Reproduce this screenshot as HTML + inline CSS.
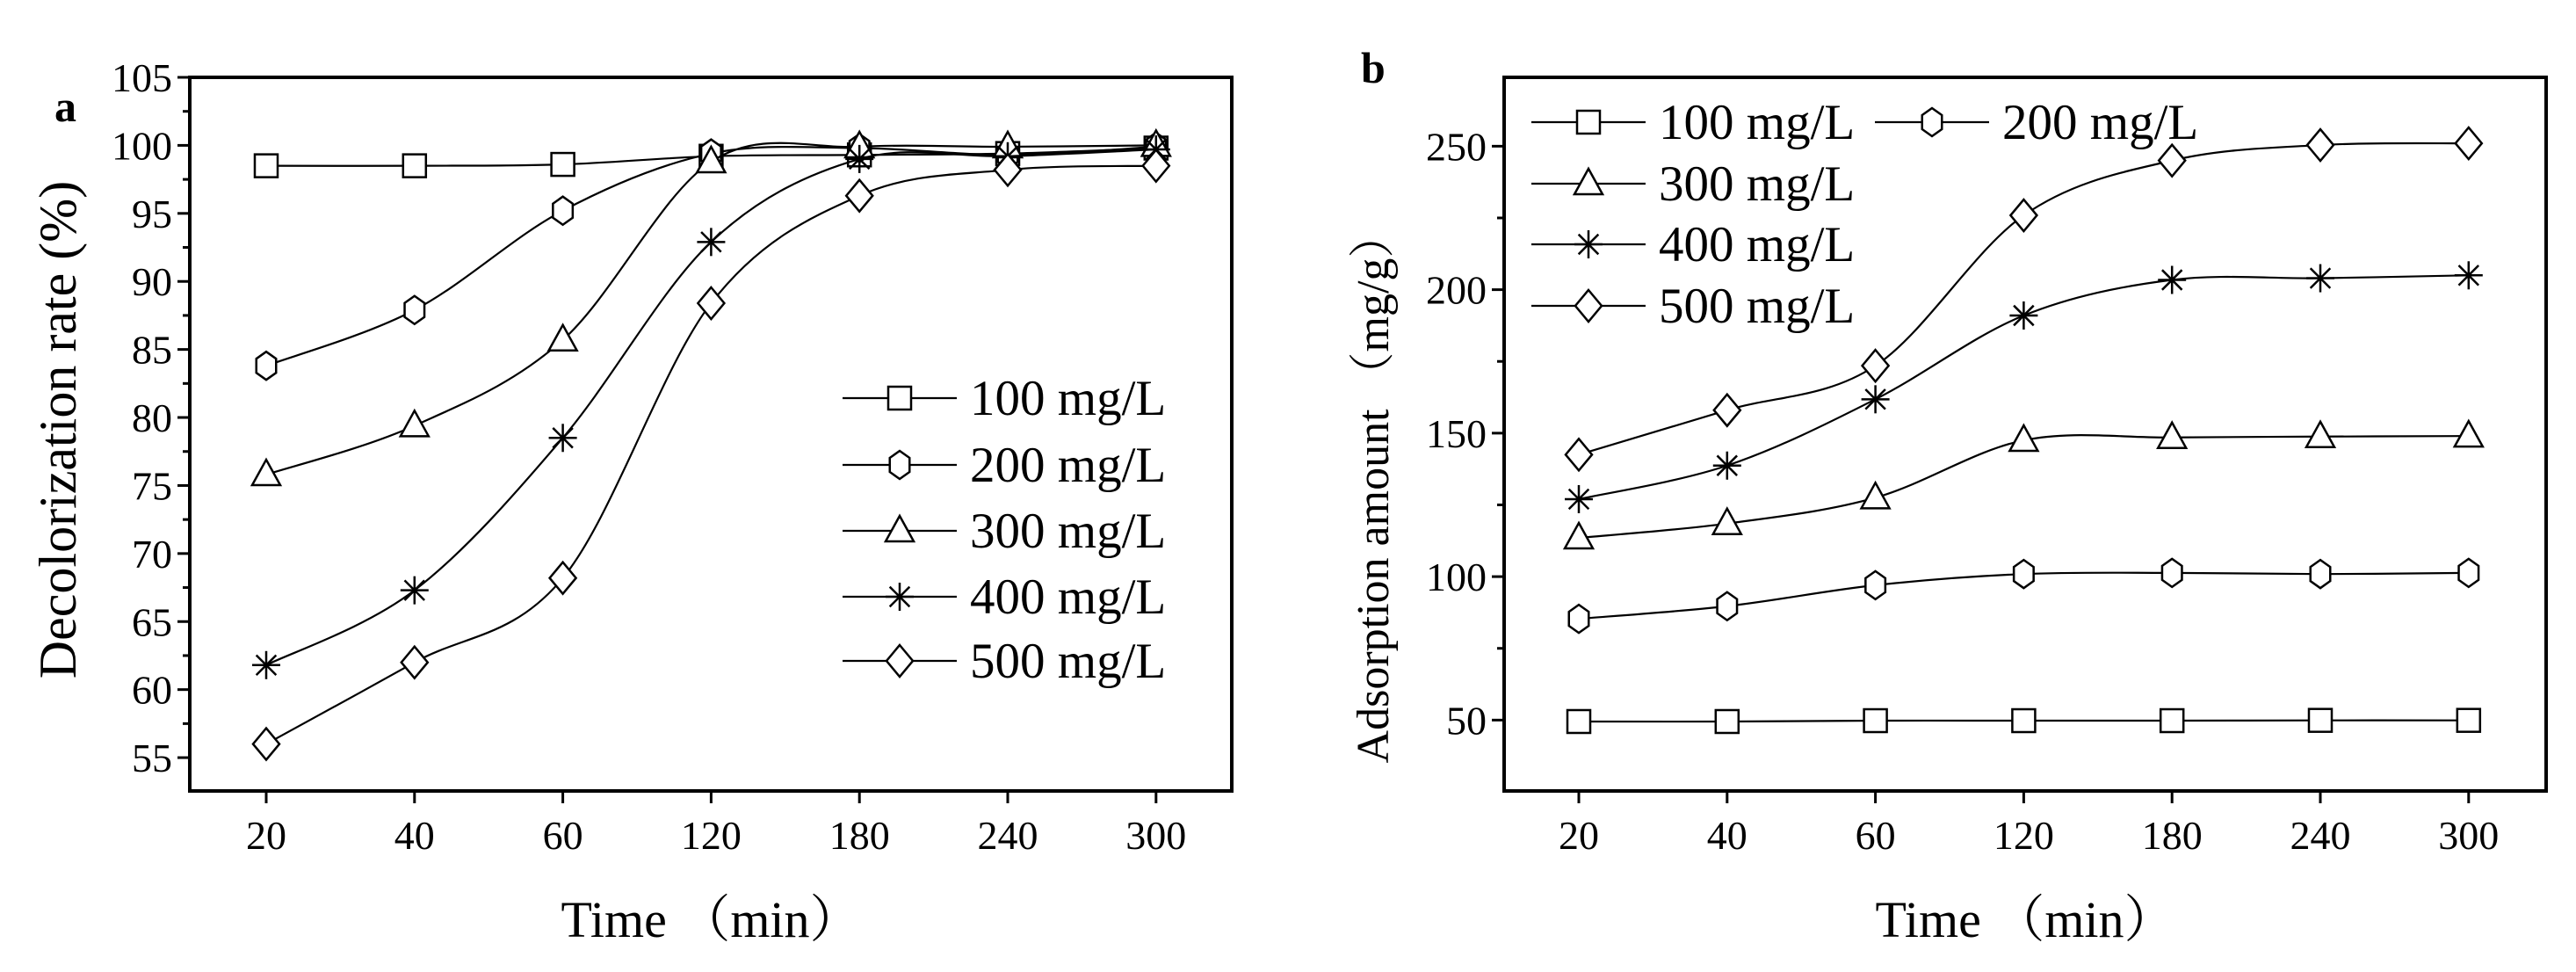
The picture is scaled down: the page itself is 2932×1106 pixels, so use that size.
<!DOCTYPE html>
<html><head><meta charset="utf-8"><style>
html,body{margin:0;padding:0;background:#fff}
svg{display:block}
text{font-family:"Liberation Serif","Noto Serif CJK SC",serif;fill:#000}
</style></head><body>
<svg id="fig" width="2932" height="1106" viewBox="0 0 2932 1106" xmlns="http://www.w3.org/2000/svg"></svg>
<script>
const categories = ["20","40","60","120","180","240","300"];
const seriesNames = ["100 mg/L","200 mg/L","300 mg/L","400 mg/L","500 mg/L"];
const markerTypes = ["square","hexagon","triangle","star","diamond"];
const aTicks = [55,60,65,70,75,80,85,90,95,100,105];
const bTicks = [50,100,150,200,250];
const a100 = [98.5,98.5,98.6,99.2,99.3,99.4,99.8];
const a200 = [83.8,87.9,95.2,99.4,99.8,99.3,99.9];
const a300 = [75.8,79.4,85.7,98.8,99.9,99.9,100.0];
const a400 = [61.8,67.3,78.5,92.9,99.0,99.2,99.7];
const a500 = [56.0,62.0,68.2,88.4,96.3,98.2,98.5];
const b100 = [49.5,49.5,49.8,49.8,49.8,49.9,49.9];
const b200 = [85.3,89.7,97.0,100.9,101.3,100.9,101.3];
const b300 = [113.5,118.5,127.5,147.5,148.5,148.8,149.0];
const b400 = [127.0,138.7,161.8,191.0,203.4,204.0,205.0];
const b500 = [142.5,158.0,173.5,225.9,245.0,250.4,251.0];

const NS="http://www.w3.org/2000/svg";
const svg=document.getElementById('fig');
function el(tag,attrs,parent){const e=document.createElementNS(NS,tag);for(const k in attrs)e.setAttribute(k,attrs[k]);(parent||svg).appendChild(e);return e;}

function spline(pts){
  let d=`M${pts[0][0]},${pts[0][1]}`;
  for(let i=0;i<pts.length-1;i++){
    const p0=pts[Math.max(0,i-1)],p1=pts[i],p2=pts[i+1],p3=pts[Math.min(pts.length-1,i+2)];
    const c1x=p1[0]+(p2[0]-p0[0])/6,c1y=p1[1]+(p2[1]-p0[1])/6;
    const c2x=p2[0]-(p3[0]-p1[0])/6,c2y=p2[1]-(p3[1]-p1[1])/6;
    d+=` C${c1x},${c1y} ${c2x},${c2y} ${p2[0]},${p2[1]}`;
  }
  return d;
}
function marker(g,type,x,y){
  const r=14;let e;
  const st={fill:'#fff',stroke:'#000','stroke-width':2.5};
  if(type==='square'){e=el('rect',Object.assign({x:x-r+1,y:y-r+1,width:2*r-2,height:2*r-2},st),g);}
  else if(type==='hexagon'){let p=[];for(let k=0;k<6;k++){const a=Math.PI/6+k*Math.PI/3;p.push((x+13*Math.cos(a))+','+(y+16*Math.sin(a)));}e=el('polygon',Object.assign({points:p.join(' ')},st),g);}
  else if(type==='triangle'){e=el('polygon',Object.assign({points:`${x},${y-17} ${x+16},${y+12} ${x-16},${y+12}`},st),g);}
  else if(type==='diamond'){e=el('polygon',Object.assign({points:`${x},${y-18} ${x+15},${y} ${x},${y+18} ${x-15},${y}`},st),g);}
  else {e=el('g',{},g);for(let k=0;k<4;k++){const a=k*Math.PI/4;el('line',{x1:x-16*Math.cos(a),y1:y-16*Math.sin(a),x2:x+16*Math.cos(a),y2:y+16*Math.sin(a),stroke:'#000','stroke-width':2.5},e);}}
  
  
  return e;
}

function panel(o){
  const g=el('g',{});
  
  
  const X=i=>o.x0+i*o.dx;
  const Y=v=>o.yTop+(o.ymax-v)*(o.yBot-o.yTop)/(o.ymax-o.ymin);
  const box=el('rect',{x:o.L,y:o.yTop,width:o.R-o.L,height:o.yBot-o.yTop,fill:'none',stroke:'#000','stroke-width':4},g);
  
  
  for(const t of o.yticks){
    const y=Y(t);
    el('line',{x1:o.L-14,y1:y,x2:o.L,y2:y,stroke:'#000','stroke-width':3},g);
    const m=Y(t+o.ystep/2); if(m>o.yTop) el('line',{x1:o.L-8,y1:m,x2:o.L,y2:m,stroke:'#000','stroke-width':3},g);
    const m2=Y(t-o.ystep/2); if(t===o.yticks[0]&&m2<o.yBot) el('line',{x1:o.L-8,y1:m2,x2:o.L,y2:m2,stroke:'#000','stroke-width':3},g);
    const tx=el('text',{x:o.L-20,y:y+16,'text-anchor':'end','font-size':46},g);tx.textContent=t;
    
    
  }
  categories.forEach((c,i)=>{
    const x=X(i);
    el('line',{x1:x,y1:o.yBot,x2:x,y2:o.yBot+14,stroke:'#000','stroke-width':3},g);
    const tx=el('text',{x:x,y:o.yBot+66,'text-anchor':'middle','font-size':46},g);tx.textContent=c;
    
    
  });
  const xt=el('text',{x:(o.L+o.R)/2,y:1066,'text-anchor':'middle','font-size':58},g);xt.textContent='Time （min）';
  
  
  const yt=el('text',{x:0,y:0,'text-anchor':'middle','font-size':o.ytSize,transform:`translate(${o.ytX},${o.ytY}) rotate(-90)`},g);yt.textContent=o.ytitle;
  
  
  const lb=el('text',{x:o.lblX,y:o.lblY,'font-size':50,'font-weight':'bold'},g);lb.textContent=o.label;
  
  
  o.series.forEach((s,k)=>{
    const pts=s.map((v,i)=>[X(i),Y(v)]);
    const p=el('path',{d:spline(pts),fill:'none',stroke:'#000','stroke-width':2.2},g);
    
    
    pts.forEach(q=>marker(g,markerTypes[k],q[0],q[1]));
  });
  o.legend.forEach((L,k)=>{
    const lg=el('g',{},g);
    
    
    el('line',{x1:L[0],y1:L[1],x2:L[0]+130,y2:L[1],stroke:'#000','stroke-width':2.2},lg);
    marker(lg,markerTypes[k],L[0]+65,L[1]);
    const t=el('text',{x:L[0]+145,y:L[1]+19,'font-size':57},lg);t.textContent=seriesNames[k];
  });
}
panel({name:'panel-a',L:216,R:1402,yTop:88,yBot:900,x0:303,dx:168.8,ymin:52.55,ymax:105,ystep:5,yticks:aTicks,
  ytitle:'Decolorization rate (%)',ytSize:60,ytX:86,ytY:489,label:'a',lblX:62,lblY:138,
  series:[a100,a200,a300,a400,a500],
  legend:[[959,453],[959,529],[959,604],[959,679],[959,752]]});
panel({name:'panel-b',L:1712,R:2898,yTop:88,yBot:900,x0:1797,dx:168.8,ymin:25.3,ymax:274,ystep:50,yticks:bTicks,
  ytitle:'Adsorption amount （mg/g）',ytSize:52,ytX:1580,ytY:555,label:'b',lblX:1549,lblY:94,
  series:[b100,b200,b300,b400,b500],
  legend:[[1743,139],[2134,139],[1743,209],[1743,278],[1743,348]]});
</script>
</body></html>
